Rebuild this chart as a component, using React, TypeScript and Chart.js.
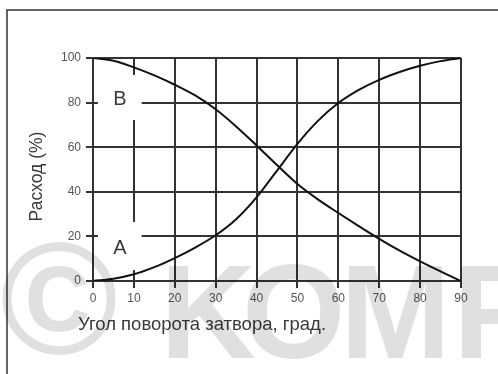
import React, { useEffect, useRef } from "react";
import { Chart, registerables } from "chart.js";

Chart.register(...registerables);

// Angle of the disc (degrees)
const angles = [0, 5, 10, 15, 20, 25, 30, 35, 40, 45, 50, 55, 60, 65, 70, 75, 80, 85, 90];
// Curve A (rising) – flow, %
const seriesA = [0, 1, 3, 6.2, 10.3, 15, 20.5, 27.7, 37.5, 49.5, 61.5, 71.8, 79.8, 85.7, 90.2, 93.7, 96.5, 98.6, 100];
// Curve B (falling) – flow, %
const seriesB = [100, 98.8, 95.8, 92.2, 88, 83.2, 77, 69.3, 60.8, 52, 43.5, 36.6, 30.5, 24.6, 18.9, 13.6, 8.8, 4.3, 0];

const xTickValues = [0, 10, 20, 30, 40, 50, 60, 70, 80, 90];
const yTickValues = [0, 20, 40, 60, 80, 100];

const xTitle = "Угол поворота затвора, град.";
const yTitle = "Расход (%)";
const curveLabels = ["B", "A"];
const watermarkSign = "©";
const watermarkLetters = ["K", "O", "M", "F"];

// annotation placement in data units
const labelAnchors = [
  { x: 6.6, y: 81.2 },
  { x: 6.6, y: 14.8 },
];
const maskBoxes = [
  { xMin: 1.2, xMax: 11.9, yMin: 72.2, yMax: 92.4 },
  { xMin: 1.2, xMax: 11.9, yMin: 4.9, yMax: 26.5 },
];
// watermark letter origins (canvas px)
const watermarkLetterX = [160, 242, 340, 453];

const FONT = "'Liberation Sans', Arial, sans-serif";

const decorPlugin = {
  id: "decor",
  beforeDatasetsDraw(chart: any) {
    const { ctx, scales } = chart;
    const xs = scales.x;
    const ys = scales.y;
    ctx.save();
    ctx.fillStyle = "#ffffff";
    maskBoxes.forEach((b) => {
      const x1 = xs.getPixelForValue(b.xMin);
      const x2 = xs.getPixelForValue(b.xMax);
      const y1 = ys.getPixelForValue(b.yMax);
      const y2 = ys.getPixelForValue(b.yMin);
      ctx.fillRect(x1, y1, x2 - x1, y2 - y1);
    });
    ctx.fillStyle = "#3a3a3a";
    ctx.font = `20px ${FONT}`;
    ctx.textAlign = "center";
    ctx.textBaseline = "middle";
    labelAnchors.forEach((p, i) => {
      ctx.fillText(curveLabels[i], xs.getPixelForValue(p.x), ys.getPixelForValue(p.y));
    });
    ctx.restore();
  },
  afterDraw(chart: any) {
    const { ctx, chartArea } = chart;
    ctx.save();
    // axis titles
    ctx.fillStyle = "#3a3a3a";
    ctx.font = `18.5px ${FONT}`;
    ctx.textAlign = "left";
    ctx.textBaseline = "alphabetic";
    ctx.fillText(xTitle, chartArea.left - 15, chartArea.bottom + 49);
    ctx.save();
    ctx.font = `17.5px ${FONT}`;
    ctx.translate(42, (chartArea.top + chartArea.bottom) / 2 + 7);
    ctx.rotate(-Math.PI / 2);
    ctx.textAlign = "center";
    ctx.fillText(yTitle, 0, 0);
    ctx.restore();

    // frame
    ctx.strokeStyle = "#333333";
    ctx.lineWidth = 1.5;
    ctx.beginPath();
    ctx.moveTo(7, chart.height);
    ctx.lineTo(7, 10);
    ctx.lineTo(chart.width, 10);
    ctx.stroke();

    // watermark overlay
    ctx.fillStyle = "rgba(0,0,0,0.12)";
    ctx.textBaseline = "alphabetic";
    ctx.textAlign = "left";
    ctx.font = `bold 160px ${FONT}`;
    ctx.fillText(watermarkSign, 0, 354);
    ctx.font = `bold 133px ${FONT}`;
    watermarkLetters.forEach((l, i) => ctx.fillText(l, watermarkLetterX[i], 358));
    ctx.restore();
  },
};

export default function App() {
  const canvasRef = useRef<HTMLCanvasElement | null>(null);

  useEffect(() => {
    const canvas = canvasRef.current;
    if (!canvas) return;
    const gridColor = "#333333";
    const chart = new Chart(canvas, {
      type: "line",
      data: {
        datasets: [
          {
            label: "A",
            data: angles.map((a, i) => ({ x: a, y: seriesA[i] })),
            borderColor: "#111111",
            borderWidth: 2,
            pointRadius: 0,
            cubicInterpolationMode: "monotone",
            fill: false,
          },
          {
            label: "B",
            data: angles.map((a, i) => ({ x: a, y: seriesB[i] })),
            borderColor: "#111111",
            borderWidth: 2,
            pointRadius: 0,
            cubicInterpolationMode: "monotone",
            fill: false,
          },
        ],
      },
      options: {
        responsive: false,
        animation: false,
        layout: { padding: { left: 0, top: 58, right: 37, bottom: 0 } },
        plugins: {
          legend: { display: false },
          tooltip: { enabled: false },
          title: { display: false },
        },
        scales: {
          x: {
            type: "linear",
            min: 0,
            max: 90,
            afterFit: (s: any) => {
              s.height = 93;
            },
            afterBuildTicks: (s: any) => {
              s.ticks = xTickValues.map((v) => ({ value: v }));
            },
            ticks: {
              color: "#555555",
              font: { family: FONT, size: 12 },
              padding: 3,
              maxRotation: 0,
            },
            grid: { color: gridColor, lineWidth: 2, tickLength: 7, drawTicks: true },
            border: { display: true, color: gridColor, width: 2 },
          },
          y: {
            type: "linear",
            min: 0,
            max: 100,
            afterFit: (s: any) => {
              s.width = 93;
            },
            afterBuildTicks: (s: any) => {
              s.ticks = yTickValues.map((v) => ({ value: v }));
            },
            ticks: {
              color: "#555555",
              font: { family: FONT, size: 12 },
              padding: 5,
            },
            grid: { color: gridColor, lineWidth: 2, tickLength: 7, drawTicks: true },
            border: { display: true, color: gridColor, width: 2 },
          },
        },
      },
      plugins: [decorPlugin],
    });
    return () => chart.destroy();
  }, []);

  return (
    <div style={{ position: "fixed", left: 0, top: 0, width: 498, height: 374, background: "#fff" }}>
      <canvas ref={canvasRef} width={498} height={374} />
    </div>
  );
}
